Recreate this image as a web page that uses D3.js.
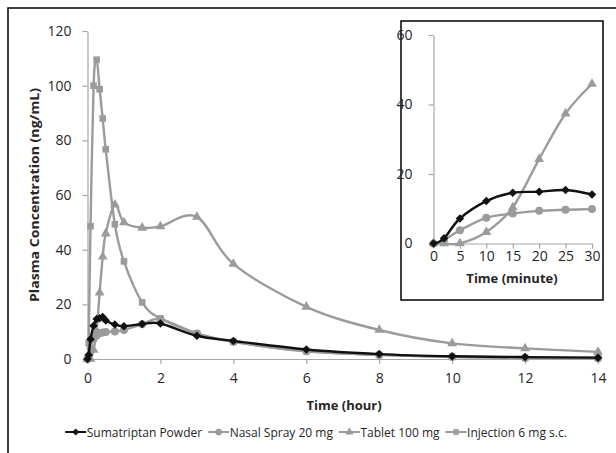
<!DOCTYPE html>
<html>
<head>
<meta charset="utf-8">
<script src="https://cdn.jsdelivr.net/npm/d3@7"></script>
<style>
  body { margin: 0; background: #fff; }
  text { font-family: "Open Sans", "Liberation Sans", sans-serif; }
</style>
</head>
<body>
<svg id="chart" width="616" height="453"></svg>
<script>
// sampling times (hours) shared by all four series
const hours = [0, 0.033, 0.083, 0.167, 0.25, 0.333, 0.417, 0.5, 0.75, 1, 1.5, 2, 3, 4, 6, 8, 10, 12, 14];
// first 30 minutes for the inset
const minutes = [0, 2, 5, 10, 15, 20, 25, 30];

const powder = [0, 1.5, 7.2, 12.2, 14.6, 14.9, 15.4, 14.1, 12.6, 12.0, 12.8, 13.0, 8.5, 6.6, 3.5, 1.8, 1.0, 0.7, 0.5];
const nasal = [0, 1.0, 3.8, 7.4, 8.6, 9.4, 9.7, 9.9, 10.1, 10.6, 12.7, 14.6, 9.3, 6.3, 2.8, 1.5, 0.7, 0.4, 0.3];
const tablet = [0, 0, 0, 3.3, 10.4, 24.3, 37.4, 45.9, 56.5, 50.0, 48.0, 48.5, 52.0, 34.8, 19.1, 10.6, 5.7, 3.9, 2.6];
const injection = [0, 5.8, 48.6, 100, 109.5, 98.7, 88, 76.7, 49.3, 35.7, 20.7, 14.8, 9.4, 6.3, 2.9, 1.5, 0.8, 0.5, 0.4];

const seriesNames = ["Sumatriptan Powder", "Nasal Spray 20 mg", "Tablet 100 mg", "Injection 6 mg s.c."];
const mainXTicks = [0, 2, 4, 6, 8, 10, 12, 14];
const mainYTicks = [0, 20, 40, 60, 80, 100, 120];
const insetXTicks = [0, 5, 10, 15, 20, 25, 30];
const insetYTicks = [0, 20, 40, 60];

const BLACK = "#111", GRAY = "#9b9b9b", AXIS = "#a6a6a6", LABEL = "#262626";

const series = [
  {name: seriesNames[0], values: powder, color: BLACK, shape: d3.symbolDiamond2, size: 46},
  {name: seriesNames[1], values: nasal, color: GRAY, shape: d3.symbolCircle, size: 50},
  {name: seriesNames[2], values: tablet, color: GRAY, shape: d3.symbolTriangle, size: 42},
  {name: seriesNames[3], values: injection, color: GRAY, shape: d3.symbolSquare, size: 44}
];

const svg = d3.select("#chart");

// outer frame (runs off right/bottom)
svg.append("rect")
  .attr("x", 8).attr("y", 8).attr("width", 700).attr("height", 600)
  .attr("fill", "none").attr("stroke", "#000").attr("stroke-width", 1.5);

const curve = d3.curveCatmullRom.alpha(0);

function drawPanel(g, x, y, xTicks, yTicks, list, xVals, xPad, yPad) {
  // axes
  const xa = g.append("g").attr("transform", "translate(0," + y.range()[0] + ")")
    .call(d3.axisBottom(x).tickValues(xTicks).tickSize(5).tickSizeOuter(0).tickPadding(xPad));
  const ya = g.append("g").attr("transform", "translate(" + x.range()[0] + ",0)")
    .call(d3.axisLeft(y).tickValues(yTicks).tickSize(5).tickSizeOuter(0).tickPadding(yPad));
  [xa, ya].forEach(a => {
    a.select(".domain").attr("stroke", AXIS).attr("stroke-width", 1.2);
    a.selectAll(".tick line").attr("stroke", AXIS).attr("stroke-width", 1.2);
    a.selectAll(".tick text").attr("fill", LABEL).style("font-size", "14px")
      .style("font-family", "'Open Sans', sans-serif");
  });

  list.forEach(s => {
    const pts = xVals.map((t, i) => [t, s.values[i]]);
    g.append("path")
      .datum(pts)
      .attr("fill", "none")
      .attr("stroke", s.color)
      .attr("stroke-width", 2.4)
      .attr("d", d3.line().x(d => x(d[0])).y(d => y(d[1])).curve(curve));
    g.append("g").selectAll("path")
      .data(pts)
      .enter().append("path")
      .attr("transform", d => "translate(" + x(d[0]) + "," + y(d[1]) + ")")
      .attr("d", d3.symbol().type(s.shape).size(s.size))
      .attr("fill", s.color);
  });
}

// main chart
const x = d3.scaleLinear().domain([0, 14]).range([87.5, 598]);
const y = d3.scaleLinear().domain([0, 120]).range([359, 31]);
// series drawn back to front so the black line stays on top
drawPanel(svg.append("g"), x, y, mainXTicks, mainYTicks,
  [series[3], series[2], series[1], series[0]], hours, 9, 11);

svg.append("text")
  .attr("x", 344).attr("y", 405)
  .attr("text-anchor", "middle").attr("dominant-baseline", "central")
  .attr("font-weight", "bold").attr("font-size", 13).attr("fill", LABEL)
  .text("Time (hour)");

svg.append("text")
  .attr("transform", "translate(34,195) rotate(-90)")
  .attr("text-anchor", "middle").attr("dominant-baseline", "central")
  .attr("font-weight", "bold").attr("font-size", 13).attr("fill", LABEL)
  .attr("textLength", 214).attr("lengthAdjust", "spacingAndGlyphs")
  .text("Plasma Concentration (ng/mL)");

// inset
const inset = svg.append("g");
inset.append("rect")
  .attr("x", 401).attr("y", 21).attr("width", 202).attr("height", 279)
  .attr("fill", "#fff").attr("stroke", "#000").attr("stroke-width", 1.5);

const xi = d3.scaleLinear().domain([0, 30]).range([433.5, 592]);
const yi = d3.scaleLinear().domain([0, 60]).range([243.5, 35]);
const insetSeries = [series[2], series[1], series[0]].map(s => ({...s, values: s.values.slice(0, minutes.length)}));
drawPanel(inset.append("g"), xi, yi, insetXTicks, insetYTicks, insetSeries, minutes, 3, 16);

inset.append("text")
  .attr("x", 512).attr("y", 278)
  .attr("text-anchor", "middle").attr("dominant-baseline", "central")
  .attr("font-weight", "bold").attr("font-size", 13).attr("fill", LABEL)
  .text("Time (minute)");

// legend
const legend = svg.append("g").attr("transform", "translate(0,432)");
let lx = 0;
const items = legend.selectAll("g")
  .data(series)
  .enter().append("g");
items.each(function(s) {
  const it = d3.select(this);
  it.append("line").attr("x1", 0).attr("x2", 21).attr("y1", 0).attr("y2", 0)
    .attr("stroke", s.color).attr("stroke-width", 2);
  it.append("path").attr("transform", "translate(10.5,0)")
    .attr("d", d3.symbol().type(s.shape).size(s.size * 0.7)).attr("fill", s.color);
  const t = it.append("text").attr("x", 21.5).attr("dominant-baseline", "central")
    .attr("font-size", 12).attr("fill", LABEL).text(s.name);
  const w = 21.5 + t.node().getComputedTextLength();
  it.attr("transform", "translate(" + lx + ",0)");
  lx += w + 6;
});
const total = lx - 6;
legend.attr("transform", "translate(" + (316 - total / 2) + ",432)");
</script>
</body>
</html>
